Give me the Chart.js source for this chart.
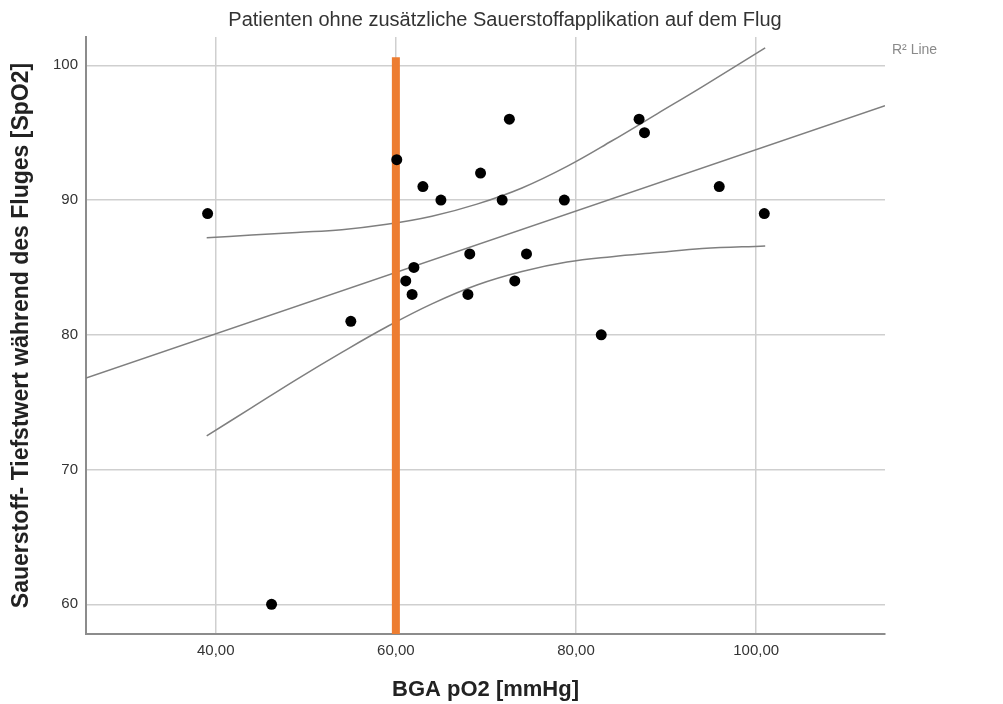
<!DOCTYPE html>
<html lang="de">
<head>
<meta charset="utf-8">
<title>Patienten ohne zusätzliche Sauerstoffapplikation auf dem Flug</title>
<script src="https://cdn.jsdelivr.net/npm/chart.js@4.4.1/dist/chart.umd.min.js"></script>
<style>
  html, body { margin: 0; padding: 0; background: #fff; }
  #wrap { position: relative; width: 1003px; height: 704px; }
</style>
</head>
<body>
<div id="wrap"><canvas id="chart" width="1003" height="704"></canvas></div>
<script>
const TITLE = 'Patienten ohne zusätzliche Sauerstoffapplikation auf dem Flug';
const X_TITLE = 'BGA pO2 [mmHg]';
const Y_TITLE = 'Sauerstoff- Tiefstwert während des Fluges [SpO2]';
const LEGEND_TEXT = 'R² Line';

const X_TICKS = [40, 60, 80, 100];
const Y_TICKS = [60, 70, 80, 90, 100];
const X_RANGE = [25.6, 114.3];
const Y_RANGE = [57.8, 102.1];

// patients: BGA pO2 vs. lowest SpO2 in flight
const PO2 = [39.1, 46.2, 55.0, 60.1, 61.1, 62.0, 61.8, 63.0, 65.0, 69.4, 71.8,
             72.6, 68.2, 68.0, 73.2, 74.5, 78.7, 82.8, 87.0, 87.6, 95.9, 100.9];
const SPO2 = [89, 60, 81, 93, 84, 85, 83, 91, 90, 92, 90,
              96, 86, 83, 84, 86, 90, 80, 96, 95, 91, 89];

// linear fit (at the axis edges)
const FIT_X = [25.6, 114.3];
const FIT_Y = [76.8, 97.0];

// confidence band of the fit
const CI_X = [39, 44, 49, 54, 59, 64, 69, 74, 79, 84, 89, 94, 101];
const CI_UPPER = [87.2, 87.4, 87.6, 87.8, 88.2, 88.8, 89.7, 90.9, 92.5, 94.4, 96.4, 98.4, 101.3];
const CI_LOWER = [72.5, 74.6, 76.7, 78.7, 80.6, 82.3, 83.7, 84.7, 85.4, 85.8, 86.1, 86.4, 86.6];

// reference line at pO2 = 60
const REF_X = [60, 60];
const REF_Y = [57.8, 100.6];

const FONT = '"Liberation Sans", Arial, sans-serif';

function pairs(xs, ys) {
  return xs.map((x, i) => ({ x: x, y: ys[i] }));
}

function fmtComma(v) {
  return Number(v).toFixed(2).replace('.', ',');
}

const textPlugin = {
  id: 'extraText',
  afterDraw(chart) {
    const ctx = chart.ctx;
    const area = chart.chartArea;
    ctx.save();
    ctx.fillStyle = '#333333';
    ctx.font = '20px ' + FONT;
    ctx.textAlign = 'center';
    ctx.textBaseline = 'middle';
    ctx.fillText(TITLE, 505, 20);

    ctx.fillStyle = '#8a8a8a';
    ctx.font = '14px ' + FONT;
    ctx.textAlign = 'left';
    ctx.fillText(LEGEND_TEXT, area.right + 7, 50);
    ctx.restore();
  },
};

const lineStyle = {
  type: 'line',
  showLine: true,
  pointRadius: 0,
  fill: false,
  borderColor: '#7f7f7f',
  borderWidth: 1.5,
};

new Chart(document.getElementById('chart'), {
  type: 'scatter',
  data: {
    datasets: [
      {
        label: 'Patienten',
        data: pairs(PO2, SPO2),
        pointRadius: 5.5,
        pointHoverRadius: 5.5,
        backgroundColor: '#000000',
        borderWidth: 0,
        order: 0,
      },
      Object.assign({ label: 'Fit', data: pairs(FIT_X, FIT_Y), order: 2 }, lineStyle),
      Object.assign({ label: 'CI oben', data: pairs(CI_X, CI_UPPER), tension: 0.4, order: 2 }, lineStyle),
      Object.assign({ label: 'CI unten', data: pairs(CI_X, CI_LOWER), tension: 0.4, order: 2 }, lineStyle),
      {
        type: 'line',
        label: 'pO2 60',
        data: pairs(REF_X, REF_Y),
        showLine: true,
        pointRadius: 0,
        borderColor: '#ed7d31',
        borderWidth: 8,
        borderCapStyle: 'butt',
        order: 1,
      },
    ],
  },
  options: {
    responsive: false,
    animation: false,
    layout: { padding: { top: 37, right: 118, left: 0, bottom: 0 } },
    plugins: {
      legend: { display: false },
      tooltip: { enabled: false },
      title: { display: false },
    },
    scales: {
      x: {
        type: 'linear',
        min: X_RANGE[0],
        max: X_RANGE[1],
        afterBuildTicks(scale) {
          scale.ticks = X_TICKS.map(v => ({ value: v }));
        },
        afterFit(scale) { scale.height = 70; },
        grid: { color: '#cfcfcf', lineWidth: 1.5, drawTicks: false },
        border: { color: '#8c8c8c', width: 2 },
        ticks: {
          padding: 8,
          color: '#333333',
          font: { family: FONT, size: 15 },
          callback: v => fmtComma(v),
        },
        title: {
          display: true,
          text: X_TITLE,
          color: '#222222',
          font: { family: FONT, size: 22, weight: 'bold' },
          padding: { top: 0, bottom: 1 },
        },
      },
      y: {
        type: 'linear',
        min: Y_RANGE[0],
        max: Y_RANGE[1],
        afterBuildTicks(scale) {
          scale.ticks = Y_TICKS.map(v => ({ value: v }));
        },
        afterFit(scale) { scale.width = 86; },
        grid: { color: '#cfcfcf', lineWidth: 1.5, drawTicks: false },
        border: { color: '#8c8c8c', width: 2 },
        ticks: {
          padding: 8,
          color: '#333333',
          font: { family: FONT, size: 15 },
          callback: v => String(v),
        },
        title: {
          display: true,
          text: Y_TITLE,
          color: '#222222',
          font: { family: FONT, size: 23, weight: 'bold' },
          padding: { top: 8, bottom: 0 },
        },
      },
    },
  },
  plugins: [textPlugin],
});
</script>
</body>
</html>
